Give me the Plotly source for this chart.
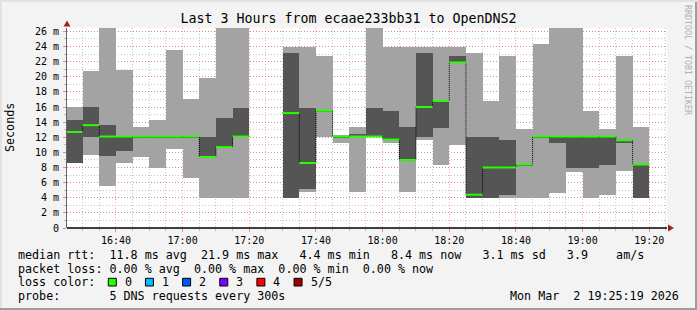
import pandas as pd
import plotly.graph_objects as go

# ---------------- data ----------------
step_minutes = 5
step_start = pd.date_range("2026-03-02 16:25", periods=35, freq="5min")

ping_min = [8.6, 9.6, 5.6, 8.6, 9.4, 7.9, 10.4, 6.6, 4.0, 4.0, 4.0, None, None, 4.0, 4.7, 12.1, 11.2, 4.7,
            12.1, 11.2, 4.8, 11.6, 8.3, 11.0, 4.0, 4.0, 4.0, 4.0, 4.0, 4.6, 7.45, 4.0, 4.3, 7.5, 4.0]
ping_q1 = [8.6, 12.0, 9.5, 10.2, 12.0, 12.0, 12.0, 12.0, 9.35, 10.6, 12.1, None, None, 4.0, 5.1, 15.4, 12.0, 12.0,
           12.1, 11.6, 8.8, 12.1, 13.2, 21.8, 4.0, 4.0, 4.4, 8.3, 12.0, 11.3, 7.9, 7.9, 8.3, 11.3, 4.0]
ping_median = [12.7, 13.6, 12.1, 12.1, 12.1, 12.1, 12.1, 12.1, 9.4, 10.7, 12.1, None, None, 15.2, 8.6, 15.5, 12.1, 12.1,
               12.1, 11.7, 9.0, 16.0, 16.8, 21.9, 4.4, 8.0, 8.0, 8.4, 12.1, 12.1, 12.1, 12.1, 12.1, 11.6, 8.4]
ping_q3 = [14.3, 16.0, 13.6, 12.2, 12.2, 12.2, 12.2, 12.2, 12.1, 14.6, 15.9, None, None, 23.2, 15.9, 15.6, 12.2, 12.4,
           15.9, 15.5, 13.4, 23.2, 16.9, 22.7, 12.1, 12.1, 11.6, 8.5, 12.2, 12.1, 12.2, 12.2, 12.2, 11.7, 8.4]
ping_max = [16.0, 20.7, 29.5, 20.9, 13.3, 14.3, 23.5, 17.1, 19.8, 30.2, 28.7, None, None, 24.0, 24.0, 22.8, 12.3, 13.4,
            31.0, 24.0, 24.0, 24.0, 24.0, 24.0, 23.2, 16.8, 22.8, 13.1, 24.4, 29.0, 27.8, 15.5, 13.1, 22.8, 13.4]

y_ticks = list(range(0, 27, 2))
y_tick_labels = ["0"] + [f"{v} m" for v in y_ticks[1:]]

loss_labels = ["0", "1", "2", "3", "4", "5/5"]
loss_colors = ["#26ff00", "#00b8ff", "#0059ff", "#7e00ff", "#ff0000", "#a10000"]

title_text = "Last 3 Hours from ecaae233bb31 to OpenDNS2"
legend_lines = [
    "median rtt:  11.8 ms avg  21.9 ms max   4.4 ms min   8.4 ms now   3.1 ms sd   3.9    am/s",
    "packet loss: 0.00 % avg  0.00 % max  0.00 % min  0.00 % now",
    "loss color:",
    "probe:       5 DNS requests every 300s",
]
date_text = "Mon Mar  2 19:25:19 2026"

# ---------------- geometry (pixels) ----------------
W, H = 697, 310
L, R, T, B = 67, 667, 28, 228
PW, PH = R - L, B - T
FONT = "DejaVu Sans Mono"


def px(x):
    return (x - L) / PW


def py(y):
    return (B - y) / PH


step_ms = step_minutes * 60 * 1000
step_end = step_start + pd.Timedelta(minutes=step_minutes)

fig = go.Figure()

# smoke: outer (min..max) light, inner (q1..q3) dark
fig.add_trace(go.Bar(
    x=step_start, base=ping_min,
    y=[None if a is None else b - a for a, b in zip(ping_min, ping_max)],
    width=step_ms, offset=0, marker=dict(color="#a3a3a3", line=dict(width=0)),
    hoverinfo="skip", showlegend=False))
fig.add_trace(go.Bar(
    x=step_start, base=ping_q1,
    y=[None if a is None else b - a for a, b in zip(ping_q1, ping_q3)],
    width=step_ms, offset=0, marker=dict(color="#555555", line=dict(width=0)),
    hoverinfo="skip", showlegend=False))

# median: black dotted step line, then green horizontal segments
mx, my, gx, gy = [], [], [], []
for s, e, m in zip(step_start, step_end, ping_median):
    if m is None:
        mx.append(None); my.append(None)
        continue
    mx += [s, e]; my += [m, m]
    gx += [s, e, None]; gy += [m, m, None]
fig.add_trace(go.Scatter(x=mx, y=my, mode="lines", line=dict(color="#000000", width=1, dash="1px,1px"),
                         connectgaps=False, hoverinfo="skip", showlegend=False))
fig.add_trace(go.Scatter(x=gx, y=gy, mode="lines", line=dict(color=loss_colors[0], width=2),
                         connectgaps=False, hoverinfo="skip", showlegend=False))

t_end = pd.Timestamp("2026-03-02 19:25:19")
t_start = t_end - pd.Timedelta(hours=3)

fig.update_layout(
    width=W, height=H,
    margin=dict(l=L, r=W - R, t=T, b=H - B, pad=0),
    paper_bgcolor="#f3f3f3", plot_bgcolor="#ffffff",
    barmode="overlay", bargap=0,
    font=dict(family=FONT, size=10, color="#000000"),
    title=dict(text=title_text, x=0.5, xref="container", xanchor="center",
               y=1 - 18 / H, yref="container", yanchor="middle",
               font=dict(family=FONT, size=13.3, color="#000000")),
    xaxis=dict(
        type="date", range=[t_start, t_end],
        tickmode="linear", tick0="2026-03-02 16:40", dtick=20 * 60 * 1000,
        tickformat="%H:%M", ticks="outside", ticklen=3, tickcolor="#ff8080", tickwidth=1,
        showgrid=True, gridcolor="rgba(255,60,60,0.45)", griddash="1px,2px", gridwidth=1,
        minor=dict(tickmode="linear", tick0="2026-03-02 16:40", dtick=step_ms, ticks="outside", ticklen=2,
                   tickcolor="#bbbbbb", showgrid=True, gridcolor="rgba(150,150,150,0.55)",
                   griddash="1px,2px", gridwidth=1),
        showline=False, zeroline=False, fixedrange=True,
        tickfont=dict(family=FONT, size=10, color="#000000"),
    ),
    yaxis=dict(
        range=[0, 26.45], tickmode="array", tickvals=y_ticks, ticktext=y_tick_labels,
        ticks="outside", ticklen=3, tickcolor="#ff8080", tickwidth=1,
        showgrid=True, gridcolor="rgba(255,60,60,0.45)", griddash="1px,2px", gridwidth=1,
        minor=dict(tickmode="linear", tick0=0, dtick=1, ticks="outside", ticklen=2, tickcolor="#bbbbbb",
                   showgrid=True, gridcolor="rgba(150,150,150,0.55)", griddash="1px,2px", gridwidth=1),
        showline=True, linecolor="#666666", linewidth=1, zeroline=False, fixedrange=True,
        tickfont=dict(family=FONT, size=10, color="#000000"), ticklabelstandoff=2,
    ),
)

shapes = []
# x axis line
shapes.append(dict(type="line", xref="paper", yref="paper", x0=0, x1=1, y0=0, y1=0,
                   line=dict(color="#000000", width=1.5), layer="above"))
# axis arrows
shapes.append(dict(type="path", xref="paper", yref="paper",
                   path=f"M {px(63.5)} {py(26.5)} L {px(70.5)} {py(26.5)} L {px(67)} {py(20.5)} Z",
                   fillcolor="#a02020", line=dict(width=0), layer="above"))
shapes.append(dict(type="path", xref="paper", yref="paper",
                   path=f"M {px(668)} {py(224.5)} L {px(668)} {py(231.5)} L {px(674)} {py(228)} Z",
                   fillcolor="#a02020", line=dict(width=0), layer="above"))
# frame shading
shapes.append(dict(type="rect", xref="paper", yref="paper", x0=px(695), x1=px(697), y0=py(0), y1=py(310),
                   fillcolor="#9e9e9e", line=dict(width=0)))
shapes.append(dict(type="rect", xref="paper", yref="paper", x0=px(0), x1=px(697), y0=py(308), y1=py(310),
                   fillcolor="#9e9e9e", line=dict(width=0)))
shapes.append(dict(type="rect", xref="paper", yref="paper", x0=px(0), x1=px(697), y0=py(0), y1=py(2),
                   fillcolor="#e2e2e2", line=dict(width=0)))
shapes.append(dict(type="rect", xref="paper", yref="paper", x0=px(0), x1=px(2), y0=py(0), y1=py(308),
                   fillcolor="#e2e2e2", line=dict(width=0)))

annotations = []
line_y = [254.5, 268.5, 282.3, 296]
for text, yy in zip(legend_lines, line_y):
    annotations.append(dict(text=text, xref="paper", yref="paper", x=px(16), y=py(yy),
                            xanchor="left", yanchor="middle", showarrow=False,
                            font=dict(family=FONT, size=11.7, color="#000000")))
# loss color boxes
for k, (lab, col) in enumerate(zip(loss_labels, loss_colors)):
    bx = 108.3 + k * 37.15
    shapes.append(dict(type="rect", xref="paper", yref="paper", x0=px(bx), x1=px(bx + 8),
                       y0=py(286), y1=py(278.3), fillcolor=col, line=dict(color="#000000", width=1)))
    annotations.append(dict(text=lab, xref="paper", yref="paper", x=px(bx + 14.5), y=py(282.3),
                            xanchor="left", yanchor="middle", showarrow=False,
                            font=dict(family=FONT, size=11.7, color="#000000")))
annotations.append(dict(text=date_text, xref="paper", yref="paper", x=px(681), y=py(296),
                        xanchor="right", yanchor="middle", showarrow=False,
                        font=dict(family=FONT, size=11.7, color="#000000")))
annotations.append(dict(text="Seconds", xref="paper", yref="paper", x=px(10), y=py(128),
                        xanchor="center", yanchor="middle", textangle=-90, showarrow=False,
                        font=dict(family=FONT, size=11.7, color="#000000")))
annotations.append(dict(text="RRDTOOL / TOBI OETIKER", xref="paper", yref="paper", x=px(688), y=py(60),
                        xanchor="center", yanchor="middle", textangle=90, showarrow=False,
                        font=dict(family=FONT, size=8.3, color="#b0b0b0")))

fig.update_layout(shapes=shapes, annotations=annotations)
fig.write_html("out.html", config={"displayModeBar": False})
